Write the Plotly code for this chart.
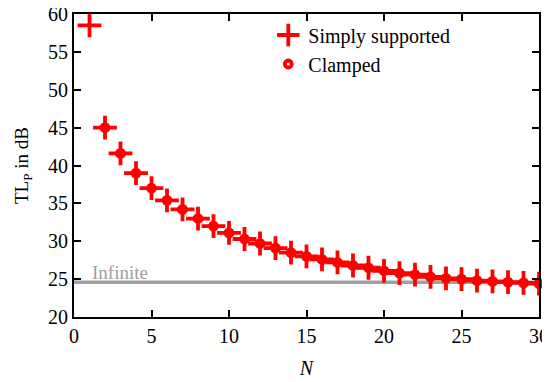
import plotly.graph_objects as go

N_simply = list(range(1, 31))
TL_simply = [58.5, 45.0, 41.6, 39.0, 37.0, 35.4, 34.2, 33.0, 32.0, 31.1,
             30.3, 29.7, 29.1, 28.5, 28.0, 27.6, 27.2, 26.8, 26.5, 26.1,
             25.8, 25.6, 25.3, 25.1, 25.0, 24.8, 24.7, 24.6, 24.5, 24.4]
N_clamped = list(range(2, 31))
TL_clamped = [45.0, 41.6, 39.0, 37.0, 35.4, 34.2, 33.0, 32.0, 31.1,
              30.3, 29.7, 29.1, 28.5, 28.0, 27.6, 27.2, 26.8, 26.5, 26.1,
              25.8, 25.6, 25.3, 25.1, 25.0, 24.8, 24.7, 24.6, 24.5, 24.4]
infinite_x = [0, 30]
infinite_tl = [24.6, 24.6]
x_ticks = [0, 5, 10, 15, 20, 25, 30]
y_ticks = [20, 25, 30, 35, 40, 45, 50, 55, 60]

red = "#ff0000"
font = "Times New Roman, Liberation Serif, DejaVu Serif, serif"

fig = go.Figure()
fig.add_trace(go.Scatter(x=infinite_x, y=infinite_tl, mode="lines",
                         line=dict(color="#a0a0a0", width=3.5), showlegend=False,
                         hoverinfo="skip"))
fig.add_trace(go.Scatter(x=N_simply, y=TL_simply, mode="markers", name="Simply supported",
                         marker=dict(symbol="cross-thin-open", size=17, color=red,
                                     line=dict(color=red, width=3.8)),
                         cliponaxis=False))
fig.add_trace(go.Scatter(x=N_clamped, y=TL_clamped, mode="markers", name="Clamped",
                         marker=dict(symbol="circle-open", size=7, color=red,
                                     line=dict(color=red, width=3.8)),
                         cliponaxis=False))

fig.add_annotation(x=1, y=infinite_tl[0], text="Infinite", showarrow=False,
                   xanchor="left", yanchor="bottom", yshift=-3,
                   font=dict(family=font, size=19, color="#a0a0a0"))

axis_common = dict(showline=True, linecolor="black", linewidth=2, mirror="ticks",
                   ticks="inside", ticklen=7, tickwidth=2, tickcolor="black",
                   showgrid=False, zeroline=False, automargin=False,
                   ticklabeloverflow="allow",
                   tickfont=dict(family=font, size=20, color="black"))

fig.update_xaxes(range=[0, 30], tickvals=x_ticks,
                 title=dict(text="<i>N</i>", font=dict(family=font, size=20, color="black"),
                            standoff=15),
                 **axis_common)
fig.update_yaxes(range=[20, 60], tickvals=y_ticks,
                 title=dict(text="TL<sub>P</sub> in dB", font=dict(family=font, size=19, color="black"),
                            standoff=14),
                 **axis_common)

# page body adds an 8px offset, so the figure is 8px smaller than the window
fig.update_layout(width=542, height=374, margin=dict(l=66, r=11, t=6, b=65),
                  paper_bgcolor="white", plot_bgcolor="white",
                  legend=dict(x=0.82, y=0.995, xanchor="right", yanchor="top",
                              bgcolor="rgba(0,0,0,0)", tracegroupgap=0,
                              font=dict(family=font, size=20, color="black")))

fig.write_html("out.html")
